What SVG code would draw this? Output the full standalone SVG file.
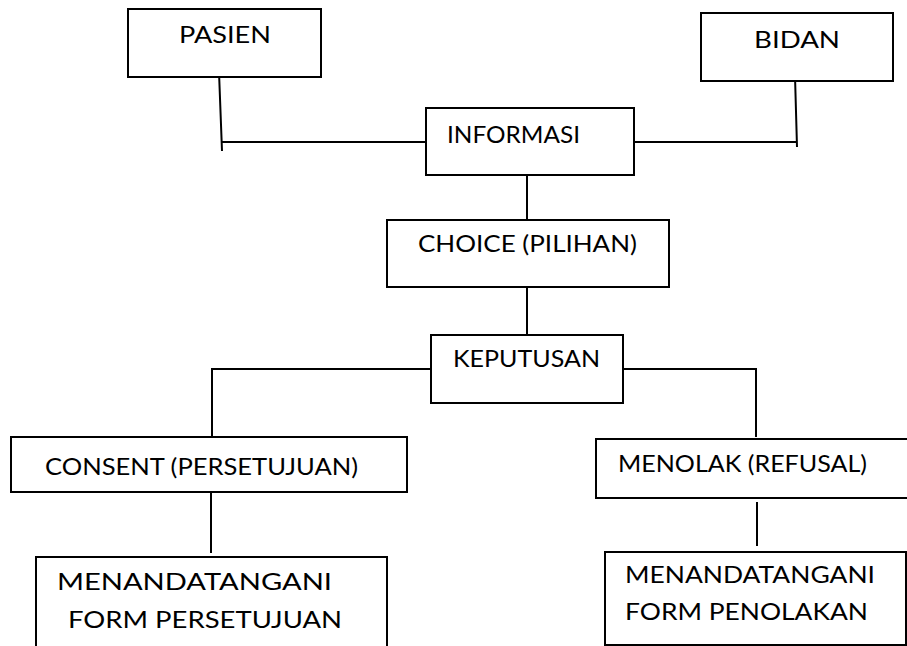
<svg xmlns="http://www.w3.org/2000/svg" width="907" height="646" viewBox="0 0 907 646">
<style>
.box{fill:#fff;stroke:#000;stroke-width:2}
.ln{fill:none;stroke:#000;stroke-width:2}
text{font-family:Lato,"Liberation Sans",Arial,sans-serif;font-size:24px;fill:#000}
</style>
<rect width="907" height="646" fill="#fff"/>
<g id="connectors">
<path class="ln" d="M219,72 L222,151 M222,142 L426,142"/>
<path class="ln" d="M795,76 L797,147 M634,142 L797,142"/>
<path class="ln" d="M527,175 V220 M527,287 V335"/>
<path class="ln" d="M431,369 H212 V437 M623,369 H756 V437"/>
<path class="ln" d="M211,492 V553 M757,502 V546"/>
</g>
<g id="pasien"><rect class="box" x="128" y="9" width="193" height="68"/><text x="179" y="43" textLength="92" lengthAdjust="spacingAndGlyphs">PASIEN</text></g>
<g id="bidan"><rect class="box" x="701" y="13" width="192" height="68"/><text x="754" y="48" textLength="86" lengthAdjust="spacingAndGlyphs">BIDAN</text></g>
<g id="informasi"><rect class="box" x="426" y="108" width="208" height="67"/><text x="447" y="143" textLength="133" lengthAdjust="spacingAndGlyphs">INFORMASI</text></g>
<g id="choice"><rect class="box" x="387" y="220" width="282" height="67"/><text x="418" y="252" textLength="219" lengthAdjust="spacingAndGlyphs">CHOICE (PILIHAN)</text></g>
<g id="keputusan"><rect class="box" x="431" y="335" width="192" height="68"/><text x="453" y="367" textLength="147" lengthAdjust="spacingAndGlyphs">KEPUTUSAN</text></g>
<g id="consent"><rect class="box" x="11" y="437" width="396" height="55"/><text x="45" y="475" textLength="313" lengthAdjust="spacingAndGlyphs">CONSENT (PERSETUJUAN)</text></g>
<g id="menolak"><rect class="box" x="596" y="439" width="320" height="59"/><text x="618" y="472" textLength="249" lengthAdjust="spacingAndGlyphs">MENOLAK (REFUSAL)</text></g>
<g id="form-persetujuan"><rect class="box" x="36" y="557" width="351" height="100"/><text x="57" y="590" textLength="275" lengthAdjust="spacingAndGlyphs">MENANDATANGANI</text><text x="68" y="628" textLength="274" lengthAdjust="spacingAndGlyphs">FORM PERSETUJUAN</text></g>
<g id="form-penolakan"><rect class="box" x="605" y="552" width="301" height="93"/><text x="625" y="583" textLength="250" lengthAdjust="spacingAndGlyphs">MENANDATANGANI</text><text x="625" y="620" textLength="243" lengthAdjust="spacingAndGlyphs">FORM PENOLAKAN</text></g>
</svg>
